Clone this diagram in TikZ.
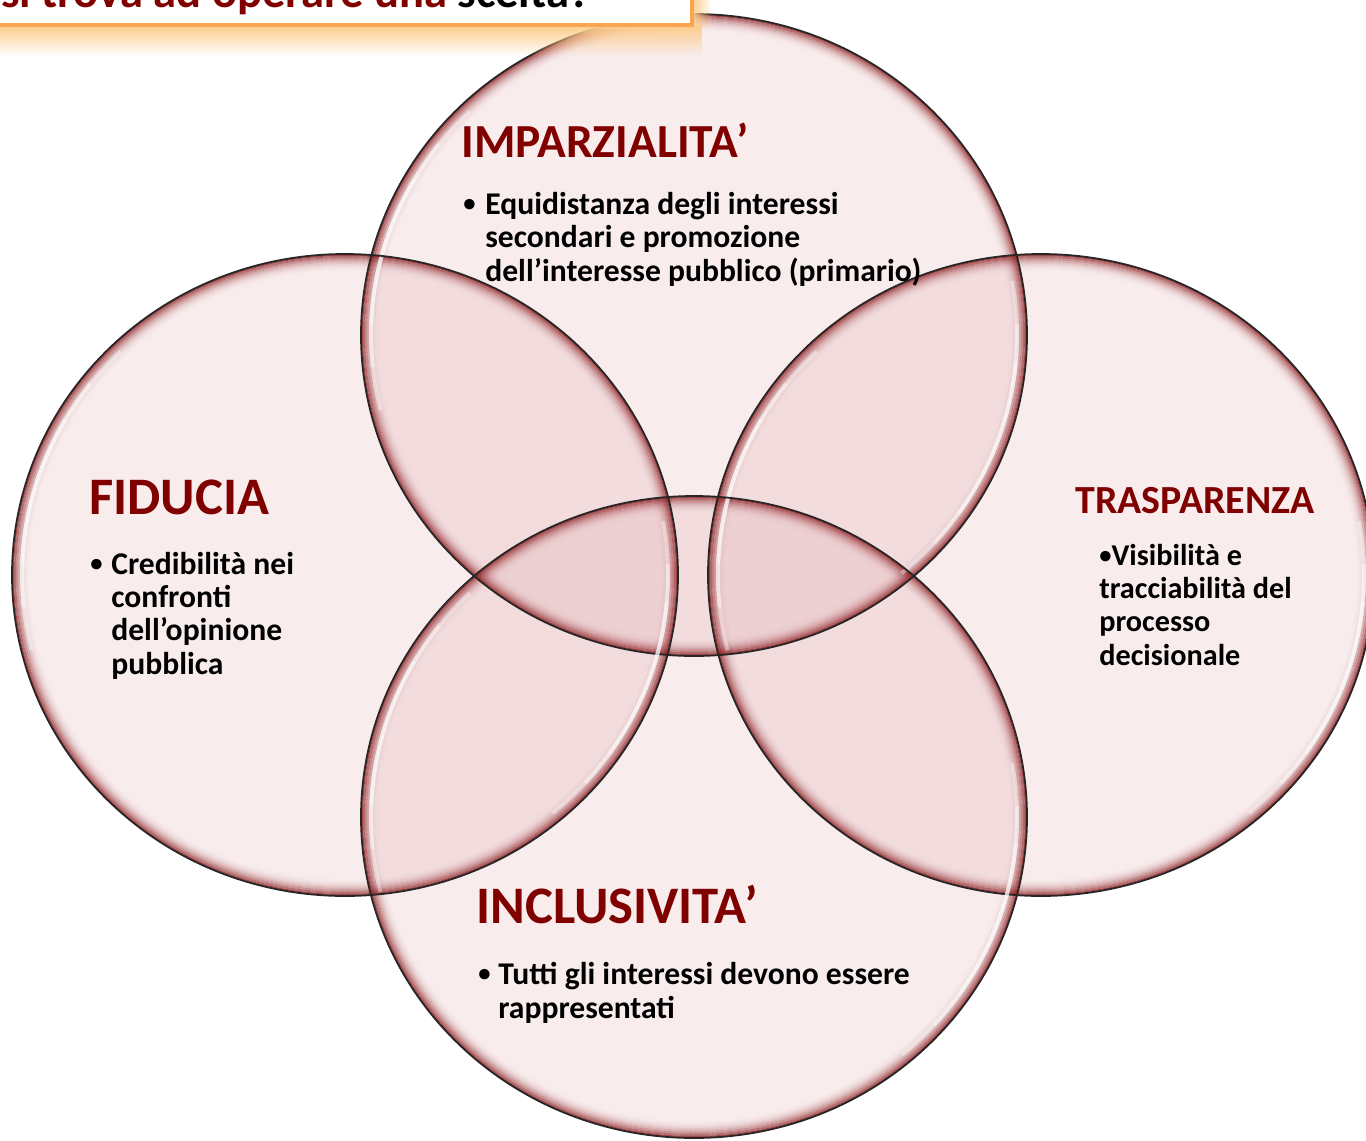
\documentclass[tikz,border=0pt]{standalone}
\usepackage{fontspec}
\setmainfont{Carlito}
\usetikzlibrary{calc,fadings}

\definecolor{titlered}{RGB}{128,0,0}
\definecolor{discpink}{RGB}{215,150,155}
\definecolor{rimred}{RGB}{140,32,35}
\definecolor{boxorange}{RGB}{250,165,80}
\definecolor{glow}{RGB}{253,205,140}

\newcommand{\bulletdot}{\raisebox{1.6pt}{\fontsize{14}{14}\selectfont •}}

\begin{document}
\begin{tikzpicture}[x=0.02cm, y=-0.02cm,
  disc/.style={fill=discpink, fill opacity=0.18},
  rimline/.style={rimred, line width=1.15pt},
  outline/.style={black!85, line width=1pt},
  gloss/.style={white, line width=2.2pt, draw opacity=0.38},
  heading/.style={font=\bfseries\fontsize{#1}{#1}\selectfont, text=titlered, inner sep=0pt, anchor=base west},
  item/.style={font=\bfseries\fontsize{#1}{18.8}\selectfont, align=left, inner sep=0pt, anchor=base west},
  item/.default=18]
\useasboundingbox (0,0) rectangle (1366,1140);
\clip (0,0) rectangle (1366,1140);

% centres of the four sets
\coordinate (cimp) at (694,335);
\coordinate (cfid) at (345,575);
\coordinate (ctra) at (1041,575);
\coordinate (cinc) at (694,817);

\foreach \c in {cimp,cfid,ctra,cinc}
  \fill[disc] (\c) ellipse [x radius=333, y radius=321];
\foreach \c in {cimp,cfid,ctra,cinc}
  \foreach \k in {0,...,8}{
    \pgfmathsetmacro\op{0.8*((\k+1)/9)^2.5}
    \draw[rimline, draw opacity=\op] (\c) ellipse [x radius=316+2*\k, y radius=304+2*\k];
  }
\foreach \c in {cimp,cfid,ctra,cinc}{
  \foreach \s/\e in {-150/-178,-142/-186,-134/-194,35/5,42/-2,50/-10}
    \draw[gloss] (\c) ++(\s:323 and 311) arc[start angle=\s, end angle=\e, x radius=323, y radius=311];
  \draw[outline] (\c) ellipse [x radius=333, y radius=321];
}

% question box, cut by the top edge
\fill[glow, path fading=south] (0,26) rectangle (702,56);
\fill[glow, path fading=east] (692,0) rectangle (712,27);
\draw[boxorange, line width=2.3pt, fill=white] (-20,-60) rectangle (692,25);
\node[font=\bfseries\fontsize{26.5}{26.5}\selectfont, inner sep=0pt, anchor=base east] (qst) at (591,7)
  {\textcolor{titlered}{si trova ad operare una} scelta?};

% IMPARZIALITA'
\node[heading=27] (himp) at (461,157) {IMPARZIALITA’};
\node[item] (bimp) at (463,214) {\bulletdot};
\node[item] (limp) at (485,281) {Equidistanza degli interessi\\secondari e promozione\\dell’interesse pubblico (primario)};

% FIDUCIA
\node[heading=30] (hfid) at (89,514) {FIDUCIA};
\node[item] (bfid) at (90,574) {\bulletdot};
\node[item] (lfid) at (111,674) {Credibilità nei\\confronti\\dell’opinione\\pubblica};

% TRASPARENZA
\node[heading=22.7] (htra) at (1075,513) {TRASPARENZA};
\node[item=17.2] (ltra) at (1099,665) {\bulletdot Visibilità e\\tracciabilità del\\processo\\decisionale};

% INCLUSIVITA'
\node[heading=30] (hinc) at (476,923) {INCLUSIVITA’};
\node[item] (binc) at (478,984) {\bulletdot};
\node[item] (linc) at (498,1018) {Tutti gli interessi devono essere\\rappresentati};
\end{tikzpicture}
\end{document}
